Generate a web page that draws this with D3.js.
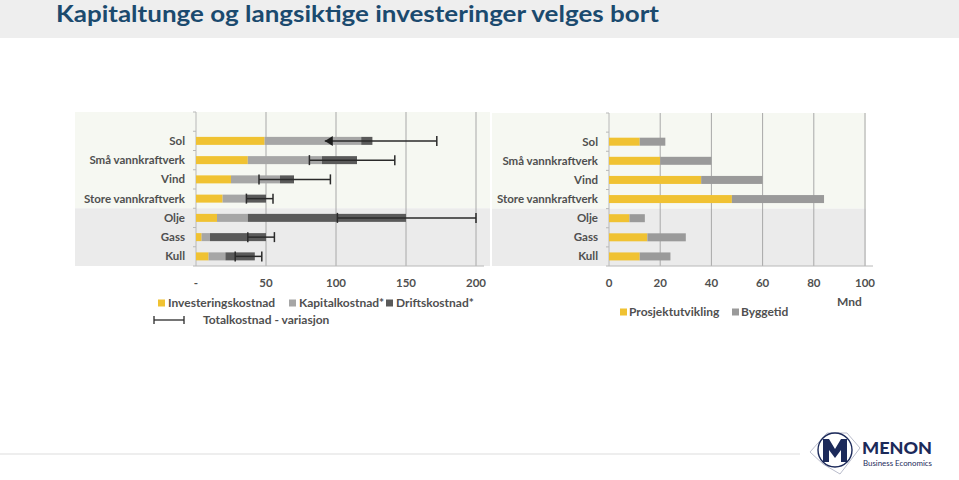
<!DOCTYPE html>
<html>
<head>
<meta charset="utf-8">
<script src="https://cdn.jsdelivr.net/npm/d3@7"></script>
<style>
  body { margin: 0; background: #fff; }
  svg { display: block; }
  .lbl { font-family: Lato, "Open Sans", sans-serif; font-weight: 700; font-size: 11.5px; fill: #505050; }
  .leg { font-family: Lato, "Open Sans", sans-serif; font-weight: 700; font-size: 12px; fill: #505050; }
</style>
</head>
<body>
<svg id="chart"></svg>
<script>
// Chart data
const categories = ["Sol", "Små vannkraftverk", "Vind", "Store vannkraftverk", "Olje", "Gass", "Kull"];

// Left chart: costs
const investering = [49, 37, 25, 19, 15, 4, 9];
const kapital = [69, 53, 35, 17, 22, 6, 12];
const drift = [8, 25, 10, 14, 113, 40, 21];
const totalMin = [92, 81, 45, 36, 101, 37, 28];
const totalMax = [172, 142, 96, 55, 200, 56, 47];
const costTicks = [0, 50, 100, 150, 200];
const costTickLabels = ["-", "50", "100", "150", "200"];

// Right chart: time in months
const prosjekt = [12, 20, 36, 48, 8, 15, 12];
const bygg = [10, 20, 24, 36, 6, 15, 12];
const timeTicks = [0, 20, 40, 60, 80, 100];

const width = 959;
const height = 480;

const svg = d3.select("#chart")
    .attr("width", width)
    .attr("height", height);

// Header band
svg.append("rect")
    .attr("x", 0).attr("y", 0)
    .attr("width", width).attr("height", 38)
    .style("fill", "#eeeeee");

svg.append("text")
    .attr("x", 56)
    .attr("y", 22)
    .attr("textLength", 603)
    .attr("lengthAdjust", "spacingAndGlyphs")
    .style("font-family", "Lato, 'Open Sans', sans-serif")
    .style("font-weight", 700)
    .style("font-size", "22px")
    .style("fill", "#1b4a6e")
    .text("Kapitaltunge og langsiktige investeringer velges bort");

// Footer line
svg.append("line")
    .attr("x1", 0).attr("x2", 800)
    .attr("y1", 454).attr("y2", 454)
    .style("stroke", "#dddddd")
    .style("stroke-width", 1);

const bandDomain = [""].concat(categories);  // empty slot on top, as in the original
const barH = 8;

function drawFrame(x, y, left, right, ticks, tickLabels) {
    const top = y.range()[0], bottom = y.range()[1];
    // backgrounds
    svg.append("rect")
        .attr("x", left).attr("y", top)
        .attr("width", right - left).attr("height", y("Olje") - top)
        .style("fill", "#f6f8f2");
    svg.append("rect")
        .attr("x", left).attr("y", y("Olje"))
        .attr("width", right - left).attr("height", bottom - y("Olje"))
        .style("fill", "#ebebeb");

    // gridlines
    svg.selectAll(null)
        .data(ticks.slice(1))
        .enter()
        .append("line")
        .attr("x1", d => x(d)).attr("x2", d => x(d))
        .attr("y1", top).attr("y2", bottom)
        .style("stroke", "#a8a8a8")
        .style("stroke-width", 1);

    // y axis line + small ticks
    svg.append("line")
        .attr("x1", x(0)).attr("x2", x(0))
        .attr("y1", top).attr("y2", bottom)
        .style("stroke", "#b8b8b8");
    svg.selectAll(null)
        .data(bandDomain.concat(["__end"]))
        .enter()
        .append("line")
        .attr("x1", x(0) - 3).attr("x2", x(0))
        .attr("y1", (d, i) => top + i * y.step())
        .attr("y2", (d, i) => top + i * y.step())
        .style("stroke", "#b8b8b8");

    // x axis line
    svg.append("line")
        .attr("x1", x(0)).attr("x2", x(ticks[ticks.length - 1]) + 8)
        .attr("y1", bottom).attr("y2", bottom)
        .style("stroke", "#b8b8b8");

    // tick labels
    svg.selectAll(null)
        .data(ticks)
        .enter()
        .append("text")
        .attr("class", "lbl")
        .attr("x", d => x(d))
        .attr("y", 287)
        .attr("text-anchor", "middle")
        .text((d, i) => tickLabels[i]);

    // category labels
    svg.selectAll(null)
        .data(categories)
        .enter()
        .append("text")
        .attr("class", "lbl")
        .attr("x", x(0) - 11)
        .attr("y", d => y(d) + y.bandwidth() / 2 + 4)
        .attr("text-anchor", "end")
        .text(d => d);
}

// ---------- Left chart ----------
const xL = d3.scaleLinear().domain([0, 200]).range([196, 476]);
const yL = d3.scaleBand().domain(bandDomain).range([112, 266]);

drawFrame(xL, yL, 75, 490, costTicks, costTickLabels);

const costRows = categories.map((c, i) => ({
    cat: c, investering: investering[i], kapital: kapital[i], drift: drift[i],
    min: totalMin[i], max: totalMax[i]
}));
const costKeys = ["investering", "kapital", "drift"];
const costColors = { investering: "#f0c232", kapital: "#a6a6a6", drift: "#5a5a5a" };
const costStack = d3.stack().keys(costKeys)(costRows);

svg.selectAll(".cost-layer")
    .data(costStack)
    .enter()
    .append("g")
    .attr("class", "cost-layer")
    .style("fill", d => costColors[d.key])
    .selectAll("rect")
    .data(d => d)
    .enter()
    .append("rect")
    .attr("x", d => xL(d[0]))
    .attr("width", d => xL(d[1]) - xL(d[0]))
    .attr("y", d => yL(d.data.cat) + yL.bandwidth() / 2 - barH / 2)
    .attr("height", barH);

// error bars (total cost range)
const err = svg.selectAll(".err")
    .data(costRows)
    .enter()
    .append("g")
    .attr("class", "err")
    .style("stroke", "#2a2a2a")
    .style("stroke-width", 1.5);

err.append("line")
    .attr("x1", d => xL(d.min)).attr("x2", d => xL(d.max))
    .attr("y1", d => yL(d.cat) + yL.bandwidth() / 2)
    .attr("y2", d => yL(d.cat) + yL.bandwidth() / 2);

err.append("line")
    .attr("x1", d => xL(d.max)).attr("x2", d => xL(d.max))
    .attr("y1", d => yL(d.cat) + yL.bandwidth() / 2 - 5)
    .attr("y2", d => yL(d.cat) + yL.bandwidth() / 2 + 5);

// min end: a cap, except for Sol, which has an arrow head
err.filter(d => d.cat !== "Sol")
    .append("line")
    .attr("x1", d => xL(d.min)).attr("x2", d => xL(d.min))
    .attr("y1", d => yL(d.cat) + yL.bandwidth() / 2 - 5)
    .attr("y2", d => yL(d.cat) + yL.bandwidth() / 2 + 5);

err.filter(d => d.cat === "Sol")
    .append("path")
    .style("stroke", "none")
    .style("fill", "#1e1e1e")
    .attr("d", d => {
        const cx = xL(d.min), cy = yL(d.cat) + yL.bandwidth() / 2;
        return `M${cx},${cy} L${cx + 8},${cy - 5} L${cx + 8},${cy + 5} Z`;
    });

// left legend
const legL = [
    { label: "Investeringskostnad", color: costColors.investering, x: 158 },
    { label: "Kapitalkostnad*", color: costColors.kapital, x: 289 },
    { label: "Driftskostnad*", color: costColors.drift, x: 386 }
];
legL.forEach(l => {
    svg.append("rect")
        .attr("x", l.x).attr("y", 299.5)
        .attr("width", 7).attr("height", 7)
        .style("fill", l.color);
    svg.append("text")
        .attr("class", "leg")
        .attr("x", l.x + 10).attr("y", 307)
        .text(l.label);
});
svg.append("line")
    .attr("x1", 154).attr("x2", 184).attr("y1", 320).attr("y2", 320)
    .style("stroke", "#2a2a2a").style("stroke-width", 1.3);
[154, 184].forEach(px => {
    svg.append("line")
        .attr("x1", px).attr("x2", px).attr("y1", 316).attr("y2", 324)
        .style("stroke", "#2a2a2a").style("stroke-width", 1.3);
});
svg.append("text")
    .attr("class", "leg")
    .attr("x", 203).attr("y", 324)
    .text("Totalkostnad - variasjon");

// ---------- Right chart ----------
const xR = d3.scaleLinear().domain([0, 100]).range([609, 865]);
const yR = d3.scaleBand().domain(bandDomain).range([113, 266]);

drawFrame(xR, yR, 492, 866, timeTicks, timeTicks.map(String));

const timeRows = categories.map((c, i) => ({ cat: c, prosjekt: prosjekt[i], bygg: bygg[i] }));
const timeColors = { prosjekt: "#f0c232", bygg: "#9a9a9a" };
const timeStack = d3.stack().keys(["prosjekt", "bygg"])(timeRows);

svg.selectAll(".time-layer")
    .data(timeStack)
    .enter()
    .append("g")
    .attr("class", "time-layer")
    .style("fill", d => timeColors[d.key])
    .selectAll("rect")
    .data(d => d)
    .enter()
    .append("rect")
    .attr("x", d => xR(d[0]))
    .attr("width", d => xR(d[1]) - xR(d[0]))
    .attr("y", d => yR(d.data.cat) + yR.bandwidth() / 2 - barH / 2)
    .attr("height", barH);

svg.append("text")
    .attr("class", "leg")
    .attr("x", 837).attr("y", 306)
    .text("Mnd");

const legR = [
    { label: "Prosjektutvikling", color: timeColors.prosjekt, x: 620 },
    { label: "Byggetid", color: timeColors.bygg, x: 732 }
];
legR.forEach(l => {
    svg.append("rect")
        .attr("x", l.x).attr("y", 308.5)
        .attr("width", 7).attr("height", 7)
        .style("fill", l.color);
    svg.append("text")
        .attr("class", "leg")
        .attr("x", l.x + 9).attr("y", 316)
        .text(l.label);
});

// ---------- Logo ----------
const logo = svg.append("g").attr("transform", "translate(835,450)");
logo.append("path")
    .attr("d", "M-25,2 L-8,-17 L12,-17 L25,-2 L5,24 L-12,14 Z")
    .style("fill", "none").style("stroke", "#8a8fa8").style("stroke-width", 0.6);
logo.append("circle")
    .attr("r", 17)
    .style("fill", "#fff").style("stroke", "#1c2a5a").style("stroke-width", 1.4);
logo.append("path")
    .attr("d", "M-12,12 L-12,-11 L-6,-11 L0,-1 L6,-11 L12,-11 L12,12 L6,12 L6,0 L0,8 L-6,0 L-6,12 Z")
    .style("fill", "#1c2a5a");
svg.append("text")
    .attr("x", 862).attr("y", 454)
    .attr("textLength", 70)
    .attr("lengthAdjust", "spacingAndGlyphs")
    .style("font-family", "Lato, 'Open Sans', sans-serif")
    .style("font-weight", 900)
    .style("font-size", "17px")
    .style("fill", "#1c2a5a")
    .text("MENON");
svg.append("text")
    .attr("x", 863).attr("y", 466)
    .attr("textLength", 69)
    .attr("lengthAdjust", "spacingAndGlyphs")
    .style("font-family", "Lato, 'Open Sans', sans-serif")
    .style("font-size", "7px")
    .style("fill", "#1c2a5a")
    .text("Business Economics");
</script>
</body>
</html>
